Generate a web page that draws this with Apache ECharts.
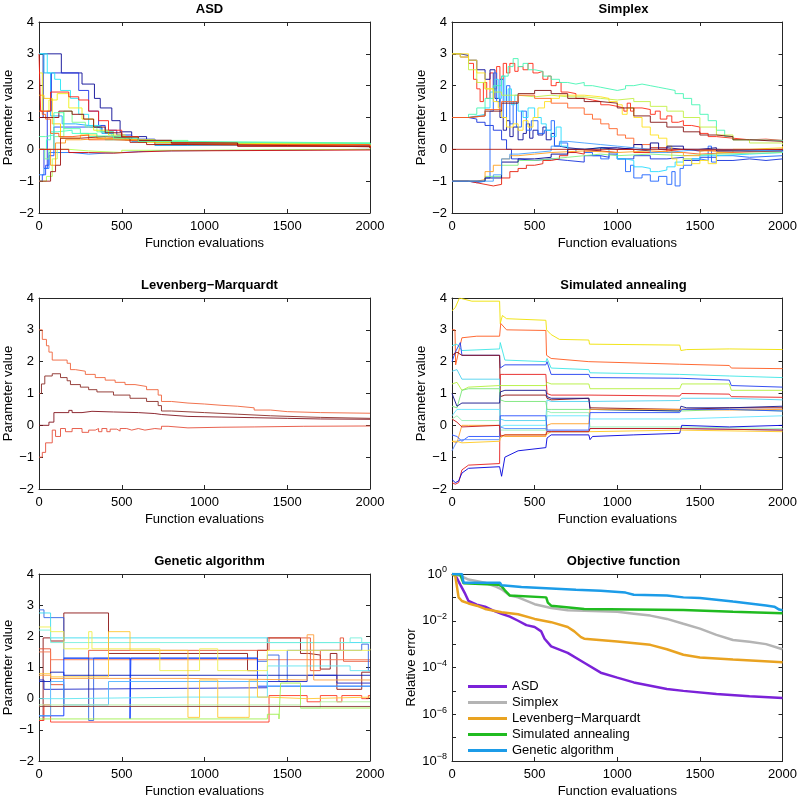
<!DOCTYPE html>
<html>
<head>
<meta charset="utf-8">
<script src="https://cdn.jsdelivr.net/npm/echarts@6/dist/echarts.min.js"></script>
<style>
    html, body {margin: 0; padding: 0; background: #fff;}
    #chart {width: 800px; height: 799px;}
</style>
</head>
<body>
<div id="chart"></div>
<script>
// ASD (x = function evaluations, y = parameter value, step series)
var asdLines = [
    [[0, 1], [25, 3], [135, 2.4], [260, 2.05], [335, 1.6], [370, 1.3], [440, 0.9], [490, 0.55], [560, 0.4], [650, 0.28], [800, 0.2], [1100, 0.16], [1500, 0.14], [2000, 0.12]],
    [[0, 0], [30, -0.6], [50, 1.2], [75, 2.4], [240, 1.85], [300, 1.2], [360, 0.75], [400, 0.6], [470, 0.45], [560, 0.32], [700, 0.22], [1000, 0.17], [1500, 0.14], [2000, 0.13]],
    [[0, -1], [20, -0.8], [40, -0.5], [60, -0.2], [90, 0.7], [200, 0.7], [300, 0.68], [380, 0.55], [450, 0.4], [520, 0.3], [700, 0.2], [1200, 0.15], [2000, 0.12]],
    [[0, -0.8], [30, -0.6], [60, -0.1], [200, -0.15], [300, -0.12], [400, -0.1], [500, -0.05], [700, 0], [2000, 0.02]],
    [[0, 3], [30, 2.4], [70, 1.05], [140, 0.8], [220, 0.75], [300, 0.7], [380, 0.5], [450, 0.38], [560, 0.25], [700, 0.12], [900, 0.15], [1500, 0.14], [2000, 0.13]],
    [[0, 3], [50, 2.4], [95, 2.2], [130, 1.85], [190, 1.6], [240, 1.1], [300, 0.75], [370, 0.55], [440, 0.42], [540, 0.3], [700, 0.22], [1000, 0.18], [2000, 0.15]],
    [[0, 0], [45, 0.3], [70, 0.55], [110, 0.6], [200, 0.5], [300, 0.4], [400, 0.3], [500, 0.25], [700, 0.2], [1200, 0.17], [2000, 0.15]],
    [[0, 0], [35, -0.3], [60, 0], [90, 0.4], [150, 1.2], [200, 0.85], [280, 0.7], [350, 0.55], [450, 0.4], [600, 0.28], [900, 0.2], [2000, 0.14]],
    [[0, -1], [45, -0.85], [80, -0.3], [110, 0], [180, -0.05], [300, -0.1], [500, -0.03], [800, 0], [2000, 0.03]],
    [[0, 2.4], [20, 1.2], [60, 1.55], [110, 1.75], [180, 1.3], [260, 0.95], [330, 0.6], [420, 0.45], [520, 0.3], [700, 0.2], [1000, 0.15], [2000, 0.1]],
    [[0, 1.7], [30, 1.6], [80, 0.8], [130, 0.35], [250, 0.45], [350, 0.35], [450, 0.3], [600, 0.22], [900, 0.15], [2000, 0.1]],
    [[0, 0], [70, -0.5], [100, 0.2], [160, 0.3], [250, 0.35], [400, 0.3], [550, 0.25], [800, 0.15], [1200, 0.1], [2000, 0.07]],
    [[0, 1.2], [20, 1.1], [40, 0.95], [70, 0.5], [120, 0.4], [200, 0.45], [300, 0.3], [450, 0.25], [700, 0.15], [2000, 0.05]],
    [[0, 3], [10, 1.2], [70, 1.8], [180, 1.65], [240, 1.55], [300, 1.2], [360, 0.9], [420, 0.6], [500, 0.4], [600, 0.28], [800, 0.2], [1200, 0.1], [2000, 0.05]],
    [[0, 0], [130, 0], [180, -0.1], [300, -0.12], [450, -0.08], [600, -0.05], [800, -0.02], [2000, 0]],
    [[0, 1], [50, 1], [120, 1.2], [200, 1.1], [270, 0.95], [330, 0.7], [400, 0.52], [500, 0.38], [600, 0.28], [800, 0.2], [1200, 0.1], [2000, 0.06]],
    [[0, -1], [70, -0.7], [100, -0.5], [130, 0.35], [250, 0.4], [400, 0.35], [550, 0.22], [650, 0.15], [900, 0.12], [1500, 0.08], [2000, 0.05]],
    [[0, 0.4], [40, 0.45], [90, 1.15], [150, 0.65], [250, 0.5], [350, 0.42], [450, 0.35], [600, 0.25], [900, 0.2], [2000, 0.15]]
];
var asdColors = ['#0a0a96', '#1e32e6', '#1e46ff', '#1e78ff', '#14aaff', '#28e6f5', '#3cffc8', '#78ff8c',
    '#b4ff50', '#f0f014', '#ffc800', '#ff9614', '#ff5a14', '#ff1e14', '#d20a0a', '#8c0a0a', '#a01414', '#50ffaa'];

// Simplex
var simplexLines = [
    [[0, 3], [50, 2.9], [100, 2.7], [130, 2.2], [150, 1.9], [170, 1.5], [190, 2.1], [210, 1.6], [230, 2.4], [250, 1.9], [270, 2.6], [290, 2.2], [310, 2.7], [330, 2.4], [350, 2.7], [380, 2.45], [400, 2.6], [430, 2.5], [460, 2.7], [490, 2.4], [520, 2.45], [550, 2.2], [580, 2.3], [600, 2.0], [630, 2.1], [660, 1.8], [700, 1.75], [750, 1.6], [800, 1.55], [850, 1.5], [900, 1.4], [950, 1.35], [1000, 1.3], [1040, 1.2], [1060, 1.45], [1080, 1.2], [1100, 1.3], [1150, 1.25], [1200, 1.1], [1230, 1.2], [1260, 0.95], [1300, 1.05], [1330, 0.85], [1370, 0.9], [1400, 0.75], [1450, 0.7], [1500, 0.5], [1550, 0.4], [1600, 0.35], [1700, 0.3], [1800, 0.32], [1900, 0.28], [2000, 0.3]],
    [[0, 3], [50, 2.95], [100, 2.8], [150, 2.5], [200, 2.2], [230, 2.5], [260, 1.6], [290, 1.0], [310, 0.6], [330, 0.9], [350, 0.4], [370, 0.7], [400, 0.3], [430, 0.5], [450, 0.8], [470, 0.35], [490, 0.6], [520, 0.45], [550, 0.7], [570, 0.3], [600, 0.5], [620, 0.1], [650, 0.05], [700, 0.0], [800, -0.05], [900, 0.05], [1000, 0.0], [1100, -0.05], [1200, 0.05], [1300, 0.0], [1400, -0.05], [1500, 0.0], [1600, -0.05], [1800, -0.02], [2000, -0.05]],
    [[0, 1], [100, 0.95], [150, 0.85], [200, 0.75], [250, 0.6], [300, 0.3], [330, 0.0], [360, -0.3], [400, -0.35], [500, -0.3], [600, -0.35], [700, -0.4], [800, -0.2], [900, -0.25], [950, -0.15], [1000, -0.3], [1100, -0.2], [1200, -0.3], [1300, -0.25], [1400, -0.35], [1500, -0.25], [1600, -0.35], [1700, -0.3], [1800, -0.35], [1900, -0.3], [2000, -0.3]],
    [[0, -1], [100, -1.05], [150, -1.0], [200, -0.9], [230, 1.2], [250, 2.4], [270, 1.5], [290, 2.2], [310, 1.0], [330, 2.0], [350, 0.8], [370, 1.5], [390, 0.7], [420, 1.2], [450, 0.6], [480, 0.9], [520, 0.5], [560, 0.6], [600, 0.9], [620, 0.1], [650, 0.2], [700, -0.1], [750, 0.0], [800, -0.1], [850, -0.2], [900, -0.3], [950, -0.1], [1000, -0.3], [1050, -0.7], [1080, -0.5], [1100, -0.9], [1150, -0.8], [1200, -1.0], [1250, -0.85], [1300, -1.1], [1330, -0.7], [1350, -1.15], [1380, -0.6], [1400, -0.5], [1450, -0.3], [1500, -0.35], [1550, 0.1], [1570, -0.4], [1600, -0.2], [1700, -0.25], [1800, -0.2], [2000, -0.2]],
    [[0, 1], [100, 1.05], [150, 1.1], [200, 1.3], [230, 1.8], [260, 2.2], [280, 1.6], [300, 2.3], [320, 1.5], [340, 1.9], [360, 1.4], [380, 1.7], [400, 1.2], [430, 1.0], [460, 1.3], [500, 1.0], [540, 0.8], [570, 0.6], [600, 0.4], [630, 0.7], [660, 0.1], [700, 0.0], [800, 0.05], [900, 0.0], [950, -0.1], [1000, -0.3], [1050, -0.35], [1100, -0.55], [1150, -0.6], [1200, -0.7], [1250, -0.65], [1300, -0.55], [1350, -0.4], [1400, -0.3], [1500, -0.2], [1600, -0.15], [1800, -0.1], [2000, -0.12]],
    [[0, 1], [100, 1.1], [150, 1.3], [200, 1.6], [250, 2.0], [300, 2.3], [340, 2.6], [370, 2.85], [400, 2.6], [430, 2.7], [460, 2.5], [500, 2.45], [550, 2.3], [600, 2.2], [650, 2.1], [700, 2.05], [750, 2.1], [800, 2.0], [850, 1.95], [900, 1.9], [950, 1.85], [1000, 1.9], [1050, 2.0], [1100, 2.05], [1150, 2.0], [1200, 1.95], [1250, 1.9], [1300, 1.85], [1350, 1.75], [1400, 1.6], [1450, 1.4], [1500, 1.1], [1550, 0.9], [1600, 0.6], [1650, 0.4], [1700, 0.3], [1800, 0.28], [2000, 0.25]],
    [[0, 3], [50, 2.9], [100, 2.5], [150, 2.1], [200, 1.9], [250, 1.8], [300, 1.7], [400, 1.65], [500, 1.7], [600, 1.65], [700, 1.65], [800, 1.6], [900, 1.55], [1000, 1.6], [1100, 1.5], [1200, 1.35], [1300, 1.2], [1400, 1.0], [1500, 0.7], [1600, 0.45], [1700, 0.3], [1800, 0.2], [2000, 0.15]],
    [[0, 3], [100, 2.8], [150, 2.4], [200, 1.9], [250, 1.5], [280, 1.3], [300, 1.0], [330, 0.7], [370, 0.8], [400, 0.6], [430, 0.9], [460, 0.7], [490, 1.0], [520, 1.3], [560, 1.5], [600, 1.6], [650, 1.7], [700, 1.7], [800, 1.65], [900, 1.6], [950, 1.5], [1000, 1.4], [1030, 1.1], [1060, 1.3], [1100, 1.0], [1150, 0.7], [1200, 0.45], [1250, 0.35], [1300, 0.1], [1330, -0.3], [1360, -0.5], [1400, -0.3], [1450, -0.45], [1500, -0.35], [1550, -0.45], [1600, -0.1], [1700, 0.0], [1800, 0.05], [2000, 0.1]],
    [[0, 1], [100, 1.05], [200, 1.2], [300, 1.45], [400, 1.75], [500, 1.85], [600, 1.75], [700, 1.6], [800, 1.5], [900, 1.45], [1000, 1.3], [1100, 1.05], [1200, 0.85], [1300, 0.7], [1400, 0.55], [1500, 0.45], [1600, 0.4], [1700, 0.3], [1800, 0.25], [2000, 0.2]],
    [[0, 1], [100, 1.05], [200, 1.25], [300, 1.5], [400, 1.7], [500, 1.6], [600, 1.45], [700, 1.3], [800, 1.1], [850, 0.95], [900, 0.8], [950, 0.65], [1000, 0.45], [1050, 0.35], [1100, 0.15], [1200, 0.05], [1300, -0.1], [1400, -0.15], [1500, -0.1], [1700, -0.05], [2000, 0.0]],
    [[0, -1], [100, -1.05], [150, -1.1], [200, -1.15], [250, -1.1], [300, -0.9], [350, -0.7], [400, -0.6], [450, -0.5], [500, -0.45], [550, -0.35], [600, -0.3], [650, -0.2], [700, -0.1], [750, -0.15], [800, -0.05], [900, -0.1], [1000, 0.0], [1100, -0.1], [1200, -0.05], [1300, 0.0], [1400, -0.05], [1600, 0.0], [2000, 0.0]],
    [[0, -1], [100, -1.0], [200, -0.85], [300, -0.5], [400, -0.35], [500, -0.3], [600, -0.25], [700, -0.2], [800, -0.15], [900, -0.2], [1000, -0.15], [1200, -0.2], [1400, -0.15], [1600, -0.1], [2000, -0.05]],
    [[0, -1], [100, -1.0], [150, -0.95], [200, -0.7], [250, -0.5], [300, -0.3], [350, -0.2], [400, -0.15], [500, -0.1], [600, -0.05], [800, -0.1], [1000, -0.05], [1200, -0.1], [1400, -0.2], [1500, -0.05], [2000, 0.05]],
    [[0, -1], [100, -1.0], [200, -0.9], [300, -0.4], [400, -0.3], [500, -0.25], [600, -0.15], [700, 0.0], [800, 0.05], [900, 0.0], [1000, 0.05], [1100, 0.15], [1150, 0.0], [1200, 0.2], [1250, 0.0], [1300, 0.1], [1400, 0.0], [1500, 0.05], [1600, -0.05], [2000, 0.0]],
    [[0, -1], [150, -1.0], [250, -0.8], [300, -0.3], [350, -0.15], [400, -0.1], [500, -0.05], [600, 0.1], [650, 0.25], [700, 0.2], [800, 0.15], [900, 0.1], [1000, 0.05], [1100, 0.0], [1200, -0.1], [1300, -0.05], [1400, 0.0], [1500, 0.0], [1600, -0.05], [2000, -0.1]],
    [[0, 0], [2000, 0]]
];
var simplexColors = ['#ff2814', '#0a0a96', '#1432dc', '#1e64ff', '#28dcff', '#46f5b4', '#c3f046', '#ffe11e',
    '#821414', '#ff6428', '#e61e0a', '#82f082', '#ffa01e', '#00008c', '#46a0ff', '#b41e14'];

// Levenberg-Marquardt
var lmLines = [
    [[0, 3], [20, 2.7], [45, 2.5], [60, 2.3], [80, 2.05], [170, 1.95], [190, 1.75], [220, 1.7], [280, 1.6], [340, 1.5], [400, 1.42], [460, 1.35], [520, 1.28], [580, 1.22], [650, 1.12], [720, 0.95], [740, 0.75], [800, 0.7], [900, 0.67], [1000, 0.63], [1100, 0.6], [1200, 0.55], [1300, 0.48], [1400, 0.43], [1500, 0.4], [1700, 0.38], [2000, 0.37]],
    [[0, 1.0], [15, 1.3], [35, 1.55], [80, 1.62], [130, 1.5], [170, 1.4], [190, 1.28], [250, 1.2], [300, 1.12], [350, 1.05], [450, 0.95], [550, 0.85], [650, 0.75], [720, 0.62], [740, 0.45], [800, 0.4], [1000, 0.35], [1200, 0.3], [1400, 0.25], [1700, 0.22], [2000, 0.2]],
    [[0, 0], [60, 0.1], [90, 0.4], [180, 0.47], [200, 0.4], [260, 0.44], [320, 0.42], [450, 0.4], [600, 0.37], [700, 0.34], [740, 0.28], [900, 0.26], [1100, 0.24], [1300, 0.22], [1500, 0.2], [1700, 0.19], [2000, 0.18]],
    [[0, -1], [20, -0.85], [40, -0.55], [80, -0.15], [100, -0.35], [130, -0.1], [160, -0.2], [200, -0.1], [260, -0.22], [300, -0.15], [340, -0.1], [360, -0.2], [380, -0.1], [410, -0.2], [430, -0.12], [470, -0.18], [490, -0.1], [530, -0.15], [560, -0.1], [600, -0.15], [640, -0.1], [700, -0.12], [740, -0.03], [780, -0.08], [900, -0.06], [1100, -0.05], [1300, -0.03], [1600, -0.02], [2000, -0.02]]
];
var lmColors = ['#f0643c', '#8c2d28', '#82141e', '#e6503c'];

// Simulated annealing
var saLines = [
    [[0, 3.6], [20, 3.7], [45, 4.0], [120, 3.9], [288, 3.9], [292, 3.2], [305, 3.45], [330, 3.35], [568, 3.3], [572, 3.0], [600, 2.85], [650, 2.7], [828, 2.68], [832, 2.55], [1378, 2.52], [1385, 2.35], [1420, 2.38], [1678, 2.4], [2000, 2.38]],
    [[0, 3.0], [18, 3.0], [22, 1.9], [60, 2.75], [150, 2.8], [288, 2.8], [295, 3.2], [330, 3.0], [568, 2.98], [572, 2.2], [600, 2.1], [828, 2.0], [835, 1.95], [1378, 1.92], [1385, 1.9], [1678, 1.88], [1690, 1.8], [2000, 1.78]],
    [[0, 2.5], [30, 2.55], [60, 2.35], [288, 2.4], [292, 2.6], [320, 2.05], [568, 2.0], [575, 2.1], [600, 1.8], [828, 1.75], [835, 1.65], [1378, 1.6], [1390, 1.55], [1678, 1.55], [1690, 1.5], [2000, 1.5]],
    [[0, 2.0], [20, 2.3], [50, 2.6], [60, 2.2], [288, 2.2], [292, 1.8], [320, 1.9], [568, 1.9], [575, 2.0], [600, 1.6], [828, 1.6], [835, 1.5], [1378, 1.48], [1390, 1.45], [1678, 1.42], [1690, 1.25], [2000, 1.2]],
    [[0, 2.2], [30, 2.3], [60, 2.2], [288, 2.2], [292, 0.9], [320, 0.95], [568, 0.95], [575, 0.85], [600, 0.8], [828, 0.85], [835, 0.55], [1378, 0.5], [1390, 0.55], [1678, 0.55], [1690, 0.58], [2000, 0.55]],
    [[0, -1.8], [20, -1.85], [40, -1.8], [60, -1.4], [100, -1.25], [288, -1.2], [292, 1.6], [320, 1.6], [568, 1.6], [575, 1.0], [600, 0.95], [828, 0.95], [835, 0.92], [1378, 0.92], [1390, 1.0], [1678, 0.98], [1690, 0.9], [2000, 0.88]],
    [[0, 1.7], [30, 1.75], [60, 1.45], [288, 1.45], [292, 0.2], [320, 0.15], [568, 0.15], [575, 0.8], [600, 0.75], [828, 0.75], [835, 0.8], [1378, 0.78], [1390, 0.85], [1678, 0.85], [1690, 0.8], [2000, 0.8]],
    [[0, 1.3], [30, 1.35], [60, 1.1], [100, 1.2], [288, 1.25], [292, 1.25], [568, 1.25], [575, 1.35], [600, 1.3], [828, 1.3], [835, 1.15], [1378, 1.15], [1390, 1.3], [1678, 1.3], [1690, 1.1], [2000, 1.1]],
    [[0, 0.6], [30, 0.55], [60, 1.1], [100, 1.15], [288, 1.15], [292, 0.8], [320, 0.75], [568, 0.75], [575, 0.5], [600, 0.5], [828, 0.5], [835, 0.45], [1378, 0.45], [1390, 0.5], [1678, 0.5], [1690, 0.45], [2000, 0.45]],
    [[0, 1.0], [30, 0.6], [60, 0.7], [288, 0.7], [292, 1.05], [320, 1.1], [568, 1.1], [575, 0.9], [600, 0.85], [828, 0.85], [835, 0.5], [1378, 0.45], [1385, 0.6], [1420, 0.55], [1678, 0.55], [1690, 0.6], [2000, 0.6]],
    [[0, 0.3], [30, 0.5], [60, 0.5], [288, 0.5], [292, -0.05], [320, 0.0], [568, 0.0], [575, 0.3], [600, 0.3], [828, 0.3], [835, 0.2], [1378, 0.2], [1390, 0.25], [1678, 0.25], [1690, 0.3], [2000, 0.3]],
    [[0, 0.2], [30, 0.3], [60, 0.15], [288, 0.15], [292, -0.15], [320, -0.15], [568, -0.15], [575, 0.45], [600, 0.4], [828, 0.4], [835, -0.05], [1378, -0.05], [1390, -0.1], [2000, -0.1]],
    [[0, -0.5], [30, -0.55], [60, 0.0], [100, 0.0], [288, 0.0], [292, -0.3], [320, -0.35], [568, -0.35], [575, 0.0], [600, 0.05], [828, 0.05], [835, 0.5], [1378, 0.5], [1390, 0.45], [1678, 0.48], [1690, 0.5], [2000, 0.5]],
    [[0, -0.3], [30, -0.35], [60, -0.5], [100, -0.35], [288, -0.35], [292, 0.3], [320, 0.3], [568, 0.3], [575, -0.15], [600, -0.15], [828, -0.15], [835, 0.4], [1378, 0.4], [1390, 0.5], [1678, 0.5], [1690, 0.45], [2000, 0.45]],
    [[0, -1.7], [20, -1.8], [40, -1.75], [60, -1.5], [100, -1.35], [288, -1.3], [300, -1.6], [320, -1.0], [400, -0.8], [568, -0.7], [575, -0.4], [600, -0.3], [828, -0.3], [835, -0.45], [850, -0.35], [1100, -0.3], [1378, -0.25], [1390, 0.0], [1678, -0.05], [2000, 0.0]],
    [[0, -0.8], [30, -0.5], [60, -0.45], [288, -0.45], [292, -0.05], [320, -0.1], [568, -0.1], [575, -0.2], [600, -0.2], [828, -0.2], [835, -0.1], [1378, -0.1], [1390, -0.15], [2000, -0.15]],
    [[0, -0.5], [30, -0.5], [60, -0.55], [288, -0.5], [292, -0.4], [320, -0.3], [568, -0.3], [575, -0.25], [600, -0.2], [828, -0.2], [835, -0.15], [1378, -0.15], [1390, -0.2], [2000, -0.2]],
    [[0, 0.2], [30, 0.1], [60, -0.05], [288, 0.0], [292, -0.35], [320, -0.3], [568, -0.3], [575, -0.2], [600, -0.2], [828, -0.2], [835, -0.1], [1378, -0.1], [2000, -0.15]]
];
var saColors = ['#f0e100', '#ff5a1e', '#3ce6e6', '#1e3cf0', '#8c0a0a', '#e61e1e', '#50d2f0', '#b4f03c',
    '#78e678', '#14148c', '#64e6ff', '#96f0b4', '#ffa028', '#2850ff', '#0000dc', '#5a8cff', '#ffc81e', '#c81414'];

// Genetic algorithm (step series)
var gaLines = [
    [[0, -0.7], [25, 1.95], [70, 1.85], [150, 2.75], [420, 1.45], [1260, 0.9], [1320, 1.55], [1380, 1.95], [1580, 1.45], [1630, 1.4], [1700, 0.95], [1760, 1.45], [1800, 0.3], [1950, 0.85], [2000, 0.85]],
    [[0, -0.7], [30, -0.2], [70, -0.75], [1390, 0.1], [1620, -0.1], [1700, 0.1], [1800, -0.1], [1830, 0.1], [1950, 0.0], [1990, 0.1], [2000, 0.1]],
    [[0, 1.6], [70, 0.45], [150, -0.25], [300, 1.55], [1390, 1.95], [1580, 1.95], [1640, 0.9], [1700, 1.55], [1820, 1.95], [1840, 1.2], [2000, 1.2]],
    [[0, 1.5], [70, 1.25], [2000, 1.25]],
    [[0, 2.85], [30, 2.6], [150, 1.3], [300, -0.7], [330, 1.3], [1320, 1.2], [1380, 1.4], [1450, 0.55], [1500, 1.55], [1950, 1.75], [1990, 0.9], [2000, 0.9]],
    [[0, 0.55], [70, 0.85], [150, 0.75], [2000, 0.75]],
    [[0, 0.6], [30, 0.3], [70, 0.35], [1380, 0.55], [1620, 0.75], [1800, 0.5], [2000, 0.5]],
    [[0, -0.55], [70, -0.55], [150, 1.3], [550, -0.65], [555, 1.3], [1320, 0.4], [2000, 0.4]],
    [[0, -0.55], [70, 0.55], [150, -0.2], [420, 0.55], [1380, 0.4], [2000, 0.4]],
    [[0, 2.75], [70, 1.95], [1380, 1.8], [2000, 1.8]],
    [[0, 2.2], [70, 1.8], [1880, 1.95], [1950, 1.8], [2000, 1.8]],
    [[0, 0.0], [150, 0.05], [900, 0.05], [1380, 1.05], [1620, 1.05], [1880, 0.9], [2000, 0.9]],
    [[0, 2.3], [70, 2.15], [150, 1.6], [300, 2.15], [320, 1.6], [730, 0.9], [900, 0.9], [970, 1.6], [1080, 0.9], [1380, 1.55], [2000, 1.6]],
    [[0, 0.8], [70, 0.7], [420, 2.15], [550, 1.55], [900, -0.6], [970, 0.6], [1080, -0.6], [1250, -0.6], [1270, 0.6], [1320, 0.05], [1380, 0.0], [1620, 0.05], [2000, 0.05]],
    [[0, 0.75], [70, 0.65], [900, 0.6], [1620, 2.05], [1660, 0.6], [2000, 0.6]],
    [[0, -0.65], [1380, -0.5], [1450, -0.65], [1460, 0.5], [1580, -0.3], [2000, -0.3]],
    [[0, -0.2], [150, -0.2], [1580, -0.3], [1700, -0.1], [2000, -0.1]],
    [[0, -0.25], [150, -0.25], [2000, -0.25]]
];
var gaColors = ['#8c1414', '#ff3c28', '#e65032', '#fa7850', '#3264e6', '#0a1eb4', '#1e28c8', '#0032ff',
    '#50b4ff', '#3cdcf0', '#78f0dc', '#64e6f0', '#f0f050', '#ffc832', '#ffa03c', '#a0f050', '#b4f0a0', '#8c3c3c'];

// Objective function (relative error, log axis)
var objNames = ['ASD', 'Simplex', 'Levenberg\u2212Marquardt', 'Simulated annealing', 'Genetic algorithm'];
var objColors = ['#7b22d8', '#b4b4b4', '#e9a321', '#20bb20', '#1c9ce8'];
var objASD = [[0, 1], [20, 0.9], [50, 0.35], [80, 0.14], [100, 0.07], [150, 0.049], [200, 0.04], [250, 0.027], [300, 0.02], [350, 0.015], [400, 0.01], [450, 0.0065], [500, 0.0054], [540, 0.0035], [560, 0.0017], [600, 0.0008], [700, 0.00042], [800, 0.00016], [900, 6e-5], [1000, 3.7e-5], [1100, 2.3e-5], [1200, 1.66e-5], [1300, 1.2e-5], [1400, 1e-5], [1600, 7.4e-6], [1800, 5.9e-6], [2000, 4.9e-6]];
var objSimplex = [[0, 1], [50, 0.85], [100, 0.58], [200, 0.42], [260, 0.3], [300, 0.22], [350, 0.12], [400, 0.1], [500, 0.051], [600, 0.035], [700, 0.028], [1000, 0.024], [1100, 0.02], [1200, 0.0166], [1300, 0.012], [1400, 0.0074], [1500, 0.0046], [1600, 0.0025], [1700, 0.0015], [1800, 0.00126], [1900, 0.001], [2000, 0.0006]];
var objLM = [[0, 1], [20, 0.8], [40, 0.1], [60, 0.07], [100, 0.055], [150, 0.044], [200, 0.032], [300, 0.023], [400, 0.019], [500, 0.012], [600, 0.0087], [700, 0.0054], [740, 0.0035], [780, 0.002], [800, 0.0017], [1000, 0.0013], [1200, 0.00093], [1300, 0.0006], [1400, 0.00035], [1500, 0.00027], [1700, 0.00022], [2000, 0.000166]];
var objSA = [[0, 1], [50, 0.95], [70, 0.4], [280, 0.35], [300, 0.3], [320, 0.2], [350, 0.12], [570, 0.1], [580, 0.06], [600, 0.044], [800, 0.032], [1400, 0.029], [1700, 0.024], [2000, 0.021]];
var objGA = [[0, 1], [60, 1], [70, 0.42], [290, 0.42], [300, 0.33], [420, 0.28], [600, 0.24], [750, 0.21], [900, 0.19], [1050, 0.16], [1100, 0.13], [1300, 0.12], [1400, 0.1], [1500, 0.095], [1600, 0.08], [1700, 0.066], [1800, 0.055], [1900, 0.045], [1950, 0.04], [1980, 0.03], [2000, 0.028]];

var panelTitles = ['ASD', 'Simplex', 'Levenberg\u2212Marquardt', 'Simulated annealing', 'Genetic algorithm', 'Objective function'];

var axisColor = '#262626';
var fontName = 'Liberation Sans, Arial, sans-serif';

// subplot positions (px)
var grids = [
    {left: 39, top: 22, width: 331, height: 191},
    {left: 452, top: 22, width: 333, height: 191},
    {left: 39, top: 298, width: 331, height: 191},
    {left: 452, top: 298, width: 333, height: 191},
    {left: 39, top: 574, width: 331, height: 191},
    {left: 452, top: 574, width: 333, height: 191}
];

function minusFmt(v) {
    return v < 0 ? '\u2212' + (-v) : '' + v;
}

function logFmt(v) {
    var e = Math.round(Math.log(v) / Math.LN10);
    if (e % 2 != 0) return '';  // label every second decade only
    return '10{s|' + minusFmt(e) + '}';
}

var xAxes = [], yAxes = [], titles = [], series = [];
for (var g = 0; g < 6; g++) {
    var isLog = (g == 5);
    titles.push({
        text: panelTitles[g],
        left: grids[g].left + grids[g].width / 2,
        top: grids[g].top - 24,
        textAlign: 'center',
        textStyle: {fontFamily: fontName, fontSize: 13, fontWeight: 'bold', color: '#000'}
    });
    xAxes.push({
        type: 'value', gridIndex: g, min: 0, max: 2000, interval: 500,
        name: 'Function evaluations', nameLocation: 'middle', nameGap: 24,
        nameTextStyle: {fontFamily: fontName, fontSize: 13, color: '#000'},
        axisLine: {onZero: false, lineStyle: {color: axisColor}},
        axisTick: {inside: true, length: 4, lineStyle: {color: axisColor}},
        axisLabel: {fontFamily: fontName, fontSize: 13, color: '#000', margin: 7, formatter: minusFmt},
        splitLine: {show: false}
    });
    var ya = {
        gridIndex: g,
        name: isLog ? 'Relative error' : 'Parameter value', nameLocation: 'middle', nameGap: isLog ? 33 : 23,
        nameTextStyle: {fontFamily: fontName, fontSize: 13, color: '#000'},
        axisLine: {onZero: false, lineStyle: {color: axisColor}},
        axisTick: {inside: true, length: 4, lineStyle: {color: axisColor}},
        splitLine: {show: false}
    };
    if (isLog) {
        ya.type = 'log';
        ya.logBase = 10;
        ya.min = 1e-8;
        ya.max = 1;
        ya.splitNumber = 8;
        ya.axisLabel = {
            fontFamily: fontName, fontSize: 13, color: '#000', margin: 5,
            formatter: logFmt,
            rich: {s: {fontFamily: fontName, fontSize: 9, color: '#000', verticalAlign: 'bottom', padding: [0, 0, 8, 0]}}
        };
    } else {
        ya.type = 'value';
        ya.min = -2;
        ya.max = 4;
        ya.interval = 1;
        ya.axisLabel = {fontFamily: fontName, fontSize: 13, color: '#000', margin: 5, formatter: minusFmt};
    }
    yAxes.push(ya);
}
// mirrored ticks on top / right (MATLAB box)
for (var g = 0; g < 6; g++) {
    xAxes.push({
        type: 'value', gridIndex: g, position: 'top', min: 0, max: 2000, interval: 500,
        axisLine: {onZero: false, lineStyle: {color: axisColor}},
        axisTick: {inside: true, length: 4, lineStyle: {color: axisColor}},
        axisLabel: {show: false}, splitLine: {show: false}
    });
    var yr = {
        gridIndex: g, position: 'right',
        axisLine: {onZero: false, lineStyle: {color: axisColor}},
        axisTick: {inside: true, length: 4, lineStyle: {color: axisColor}},
        axisLabel: {show: false}, splitLine: {show: false}
    };
    if (g == 5) {
        yr.type = 'log'; yr.logBase = 10; yr.min = 1e-8; yr.max = 1; yr.splitNumber = 8;
    } else {
        yr.type = 'value'; yr.min = -2; yr.max = 4; yr.interval = 1;
    }
    yAxes.push(yr);
}

function addPanel(idx, lines, colors, step) {
    for (var i = 0; i < lines.length; i++) {
        series.push({
            type: 'line', xAxisIndex: idx, yAxisIndex: idx,
            data: lines[i], step: step, symbol: 'none', silent: true,
            lineStyle: {width: 1, color: colors[i % colors.length], opacity: 0.9}
        });
    }
}
addPanel(0, asdLines, asdColors, 'end');
addPanel(1, simplexLines, simplexColors, 'end');
addPanel(2, lmLines, lmColors, 'end');
addPanel(3, saLines, saColors, false);
addPanel(4, gaLines, gaColors, 'end');

var objData = [objASD, objSimplex, objLM, objSA, objGA];
for (var k = 0; k < objData.length; k++) {
    series.push({
        name: objNames[k], type: 'line', xAxisIndex: 5, yAxisIndex: 5,
        data: objData[k], symbol: 'none', silent: true,
        itemStyle: {color: objColors[k]},
        lineStyle: {width: 2.5, color: objColors[k]}
    });
}

var chart = echarts.init(document.getElementById('chart'));
chart.setOption({
    animation: false,
    backgroundColor: '#fff',
    title: titles,
    grid: grids,
    xAxis: xAxes,
    yAxis: yAxes,
    legend: {
        data: objNames,
        orient: 'vertical',
        left: 468,
        top: 679,
        padding: 0,
        itemWidth: 39,
        itemHeight: 3,
        itemGap: 1,
        icon: 'rect',
        textStyle: {fontFamily: fontName, fontSize: 13, color: '#000', lineHeight: 15}
    },
    series: series
});
</script>
</body>
</html>
